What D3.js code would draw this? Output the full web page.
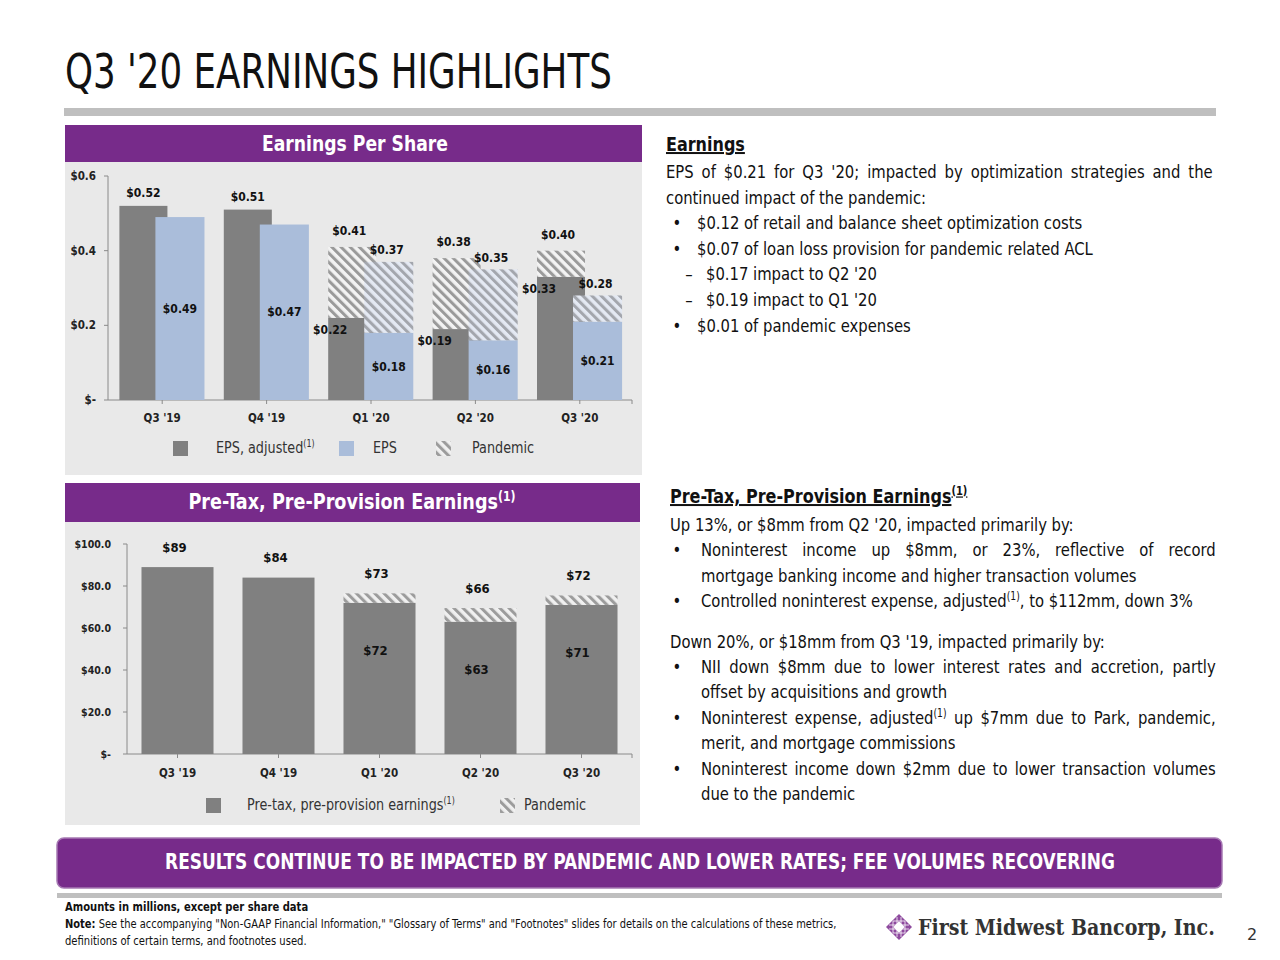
<!DOCTYPE html>
<html><head><meta charset="utf-8">
<script src="https://cdn.jsdelivr.net/npm/d3@7"></script>
<style>body{margin:0;background:#fff}svg{display:block}</style>
</head><body><svg id="c" width="1280" height="960"></svg>
<script>
// ---------- DATA ----------
const categories = ["Q3 '19", "Q4 '19", "Q1 '20", "Q2 '20", "Q3 '20"];
const epsAdjusted = [0.52, 0.51, 0.22, 0.19, 0.33];
const epsAdjustedPandemic = [0, 0, 0.19, 0.19, 0.07];
const eps = [0.49, 0.47, 0.18, 0.16, 0.21];
const epsPandemic = [0, 0, 0.19, 0.19, 0.07];
const epsTicks = [0, 0.2, 0.4, 0.6];
const epsTickLabels = ["$-", "$0.2", "$0.4", "$0.6"];
const ptpp = [89, 84, 72, 63, 71];
const ptppPandemic = [0, 0, 4.5, 6.5, 4.5];
const ptppTotalLabels = ["$89", "$84", "$73", "$66", "$72"];
const ptppTicks = [0, 20, 40, 60, 80, 100];
const ptppTickLabels = ["$-", "$20.0", "$40.0", "$60.0", "$80.0", "$100.0"];

const titleText = "Q3 '20 EARNINGS HIGHLIGHTS";
const earningsBlock = [
  {kind: "para", parts: ["EPS of $0.21 for Q3 '20; impacted by optimization strategies and the"], justify: true},
  {kind: "para", parts: ["continued impact of the pandemic:"]},
  {kind: "bullet", parts: ["$0.12 of retail and balance sheet optimization costs"]},
  {kind: "bullet", parts: ["$0.07 of loan loss provision for pandemic related ACL"]},
  {kind: "dash", parts: ["$0.17 impact to Q2 '20"]},
  {kind: "dash", parts: ["$0.19 impact to Q1 '20"]},
  {kind: "bullet", parts: ["$0.01 of pandemic expenses"]}
];
const ptppBlock = [
  {kind: "para", parts: ["Up 13%, or $8mm from Q2 '20, impacted primarily by:"]},
  {kind: "bullet", parts: ["Noninterest income up $8mm, or 23%, reflective of record"], justify: true},
  {kind: "cont", parts: ["mortgage banking income and higher transaction volumes"]},
  {kind: "bullet", parts: ["Controlled noninterest expense, adjusted", {sup: "(1)"}, ", to $112mm, down 3%"]},
  {kind: "gap"},
  {kind: "para", parts: ["Down 20%, or $18mm from Q3 '19, impacted primarily by:"]},
  {kind: "bullet", parts: ["NII down $8mm due to lower interest rates and accretion, partly"], justify: true},
  {kind: "cont", parts: ["offset by acquisitions and growth"]},
  {kind: "bullet", parts: ["Noninterest expense, adjusted", {sup: "(1)"}, " up $7mm due to Park, pandemic,"], justify: true},
  {kind: "cont", parts: ["merit, and mortgage commissions"]},
  {kind: "bullet", parts: ["Noninterest income down $2mm due to lower transaction volumes"], justify: true},
  {kind: "cont", parts: ["due to the pandemic"]}
];
const bannerText = "RESULTS CONTINUE TO BE IMPACTED BY PANDEMIC AND LOWER RATES; FEE VOLUMES RECOVERING";

// ---------- STYLE ----------
const COND = "'Liberation Sans Narrow','DejaVu Sans Condensed','Arial Narrow',sans-serif";
const CHARTF = "'DejaVu Sans Condensed','DejaVu Sans',sans-serif";
const K = 0.89;
const PURPLE = "#772b8a";
const DARK = "#808080";
const LIGHT = "#aabdda";
const PANEL = "#e9e9e9";

const svg = d3.select("#c");
const defs = svg.append("defs");
function hatch(id, bg, fg) {
  const p = defs.append("pattern").attr("id", id).attr("patternUnits", "userSpaceOnUse")
    .attr("width", 6.5).attr("height", 6.5).attr("patternTransform", "rotate(-45)");
  p.append("rect").attr("width", 6.5).attr("height", 6.5).attr("fill", bg);
  p.append("rect").attr("width", 3).attr("height", 6.5).attr("fill", fg);
}
hatch("hDark", "#f3f3f3", "#9a9a9a");
hatch("hLight", "#e4e9f3", "#a3a6ad");
hatch("hPt", "#f0f0f0", "#9c9c9c");

function squeeze(t, x, k) {
  if (k !== 1) t.attr("transform", `translate(${x},0) scale(${k},1) translate(${-x},0)`);
}
function textLine(g, x, y, parts, o) {
  const t = g.append("text").attr("x", x).attr("y", y)
    .attr("font-family", o.font || COND).attr("font-size", o.size)
    .attr("font-weight", o.weight || "normal").attr("fill", o.fill || "#111");
  if (o.anchor) t.attr("text-anchor", o.anchor);
  if (o.underline) t.attr("text-decoration", "underline");
  let shifted = false;
  (Array.isArray(parts) ? parts : [parts]).forEach(p => {
    if (typeof p === "string") {
      const s = t.append("tspan").text(p);
      if (shifted) { s.attr("dy", o.size * 0.38); shifted = false; }
    } else {
      t.append("tspan").attr("dy", -o.size * 0.38).attr("font-size", o.size * 0.62).text(p.sup);
      shifted = true;
    }
  });
  const w = t.node().getComputedTextLength();
  if (o.justify) {
    // condense glyphs, then widen word gaps to reach the right margin
    const spaces = (t.text().match(/ /g) || []).length;
    const extra = o.justify / K - w;
    if (spaces > 0 && extra > 0) t.attr("word-spacing", extra / spaces);
    squeeze(t, x, K);
    return t;
  }
  let k = 1;
  if (o.len) k = o.len / w; else if (!o.font) k = K;
  squeeze(t, x, k);
  return t;
}

// ---------- TITLE ----------
textLine(svg, 65, 88, titleText, {size: 48, len: 547, fill: "#111"});
svg.append("rect").attr("x", 64).attr("y", 108).attr("width", 1152).attr("height", 8).attr("fill", "#bfbfbf");

// ---------- EPS PANEL ----------
svg.append("rect").attr("x", 65).attr("y", 125).attr("width", 577).attr("height", 37).attr("fill", PURPLE);
svg.append("rect").attr("x", 65).attr("y", 162).attr("width", 577).attr("height", 313).attr("fill", PANEL);
textLine(svg, 355, 151, "Earnings Per Share", {size: 22, weight: "bold", fill: "#fff", anchor: "middle", len: 186});

const ex = d3.scaleBand().domain(categories).range([110, 632]).paddingInner(0).paddingOuter(0);
const ey = d3.scaleLinear().domain([0, 0.6]).range([400, 176]);
const eg = svg.append("g");
const ebw = ex.bandwidth();
const ec = d => ex(d) + ebw / 2;
const darkX = d => ec(d) - 0.41 * ebw, darkW = 0.46 * ebw;
const lightX = d => ec(d) - 0.065 * ebw, lightW = 0.47 * ebw;

eg.append("line").attr("x1", 108).attr("x2", 108).attr("y1", ey(0.6)).attr("y2", ey(0)).attr("stroke", "#8a8a8a");
eg.append("line").attr("x1", 108).attr("x2", 632).attr("y1", ey(0)).attr("y2", ey(0)).attr("stroke", "#8a8a8a");
epsTicks.forEach((t, i) => {
  eg.append("line").attr("x1", 104).attr("x2", 108).attr("y1", ey(t)).attr("y2", ey(t)).attr("stroke", "#8a8a8a");
  eg.append("text").attr("x", 96).attr("y", ey(t)).attr("dy", "0.35em").attr("text-anchor", "end")
    .attr("font-family", CHARTF).attr("font-weight", "bold").attr("font-size", 11.5).attr("fill", "#222").text(epsTickLabels[i]);
});
categories.forEach(c => {
  eg.append("line").attr("x1", ec(c)).attr("x2", ec(c)).attr("y1", ey(0)).attr("y2", ey(0) + 4).attr("stroke", "#8a8a8a");
  eg.append("text").attr("x", ec(c)).attr("y", 418).attr("dy", "0.35em").attr("text-anchor", "middle")
    .attr("font-family", CHARTF).attr("font-weight", "bold").attr("font-size", 11.5).attr("fill", "#222").text(c);
});
eg.append("line").attr("x1", 632).attr("x2", 632).attr("y1", ey(0)).attr("y2", ey(0) + 4).attr("stroke", "#8a8a8a");

categories.forEach((c, i) => {
  eg.append("rect").attr("x", darkX(c)).attr("width", darkW).attr("y", ey(epsAdjusted[i])).attr("height", ey(0) - ey(epsAdjusted[i])).attr("fill", DARK);
  if (epsAdjustedPandemic[i] > 0) {
    const tot = epsAdjusted[i] + epsAdjustedPandemic[i];
    eg.append("rect").attr("x", darkX(c)).attr("width", darkW).attr("y", ey(tot)).attr("height", ey(epsAdjusted[i]) - ey(tot)).attr("fill", "url(#hDark)");
  }
});
categories.forEach((c, i) => {
  eg.append("rect").attr("x", lightX(c)).attr("width", lightW).attr("y", ey(eps[i])).attr("height", ey(0) - ey(eps[i])).attr("fill", LIGHT);
  if (epsPandemic[i] > 0) {
    const tot = eps[i] + epsPandemic[i];
    eg.append("rect").attr("x", lightX(c)).attr("width", lightW).attr("y", ey(tot)).attr("height", ey(eps[i]) - ey(tot)).attr("fill", "url(#hLight)");
  }
});
const fmtE = v => "$" + v.toFixed(2);
function elabel(x, y, txt) {
  eg.append("text").attr("x", x).attr("y", y).attr("dy", "0.35em").attr("text-anchor", "middle")
    .attr("font-family", CHARTF).attr("font-weight", "bold").attr("font-size", 12).attr("fill", "#111").text(txt);
}
categories.forEach((c, i) => {
  const lc = lightX(c) + lightW / 2;
  elabel(lc, (ey(eps[i]) + ey(0)) / 2, fmtE(eps[i]));
  if (epsAdjustedPandemic[i] > 0) {
    const tot = epsAdjusted[i] + epsAdjustedPandemic[i];
    elabel(darkX(c) + darkW / 2 - 3, ey(tot) - 16, fmtE(tot));
    elabel(darkX(c) + 2, ey(epsAdjusted[i]) + 12, fmtE(epsAdjusted[i]));
    const ltot = eps[i] + epsPandemic[i];
    elabel(lc - 2, ey(ltot) - 12, fmtE(ltot));
  } else {
    elabel(darkX(c) + darkW / 2, ey(epsAdjusted[i]) - 13, fmtE(epsAdjusted[i]));
  }
});
function legendItem(g, x, y, fill, label, tx) {
  g.append("rect").attr("x", x).attr("y", y - 7).attr("width", 15).attr("height", 15).attr("fill", fill);
  textLine(g, tx, y + 5.5, label, {size: 16, fill: "#333"});
}
legendItem(eg, 173, 448, DARK, ["EPS, adjusted", {sup: "(1)"}], 216);
legendItem(eg, 339, 448, LIGHT, "EPS", 373);
legendItem(eg, 436, 448, "url(#hPt)", "Pandemic", 472);

// ---------- PTPP PANEL ----------
svg.append("rect").attr("x", 65).attr("y", 483).attr("width", 575).attr("height", 39).attr("fill", PURPLE);
svg.append("rect").attr("x", 65).attr("y", 522).attr("width", 575).attr("height", 303).attr("fill", PANEL);
textLine(svg, 352, 509, ["Pre-Tax, Pre-Provision Earnings", {sup: "(1)"}], {size: 22, weight: "bold", fill: "#fff", anchor: "middle"});

const px = d3.scaleBand().domain(categories).range([127, 632]).paddingInner(0.287).paddingOuter(0.1435);
const py = d3.scaleLinear().domain([0, 100]).range([754, 544]);
const pg = svg.append("g");
pg.append("line").attr("x1", 127).attr("x2", 127).attr("y1", py(100)).attr("y2", py(0)).attr("stroke", "#8a8a8a");
pg.append("line").attr("x1", 127).attr("x2", 632).attr("y1", py(0)).attr("y2", py(0)).attr("stroke", "#8a8a8a");
ptppTicks.forEach((t, i) => {
  pg.append("line").attr("x1", 123).attr("x2", 127).attr("y1", py(t)).attr("y2", py(t)).attr("stroke", "#8a8a8a");
  pg.append("text").attr("x", 111).attr("y", py(t)).attr("dy", "0.35em").attr("text-anchor", "end")
    .attr("font-family", CHARTF).attr("font-weight", "bold").attr("font-size", 10.5).attr("fill", "#222").text(ptppTickLabels[i]);
});
const pc = d => px(d) + px.bandwidth() / 2;
categories.forEach(c => {
  pg.append("line").attr("x1", pc(c)).attr("x2", pc(c)).attr("y1", py(0)).attr("y2", py(0) + 4).attr("stroke", "#8a8a8a");
  pg.append("text").attr("x", pc(c)).attr("y", 773).attr("dy", "0.35em").attr("text-anchor", "middle")
    .attr("font-family", CHARTF).attr("font-weight", "bold").attr("font-size", 11.5).attr("fill", "#222").text(c);
});
pg.append("line").attr("x1", 632).attr("x2", 632).attr("y1", py(0)).attr("y2", py(0) + 4).attr("stroke", "#8a8a8a");
function plabel(x, y, txt) {
  pg.append("text").attr("x", x).attr("y", y).attr("dy", "0.35em").attr("text-anchor", "middle")
    .attr("font-family", CHARTF).attr("font-weight", "bold").attr("font-size", 13).attr("fill", "#111").text(txt);
}
categories.forEach((c, i) => {
  pg.append("rect").attr("x", px(c)).attr("width", px.bandwidth()).attr("y", py(ptpp[i])).attr("height", py(0) - py(ptpp[i])).attr("fill", DARK);
  const top = ptpp[i] + ptppPandemic[i];
  if (ptppPandemic[i] > 0) {
    pg.append("rect").attr("x", px(c)).attr("width", px.bandwidth()).attr("y", py(top)).attr("height", py(ptpp[i]) - py(top)).attr("fill", "url(#hPt)");
    plabel(pc(c) - 4, py(ptpp[i]) + 48, "$" + ptpp[i]);
  }
  plabel(pc(c) - 3, py(top) - 20, ptppTotalLabels[i]);
});
legendItem(pg, 206, 805, DARK, ["Pre-tax, pre-provision earnings", {sup: "(1)"}], 247);
legendItem(pg, 500, 805, "url(#hPt)", "Pandemic", 524);

// ---------- RIGHT TEXT ----------
const tg = svg.append("g");
function block(lines, x0, y0, step, gap) {
  let y = y0;
  lines.forEach(l => {
    if (l.kind === "gap") { y += gap; return; }
    if (l.kind === "para") {
      textLine(tg, x0, y, l.parts, {size: 18.5, justify: l.justify ? 1213 - x0 : null});
    } else if (l.kind === "bullet") {
      textLine(tg, 677, y, "•", {size: 18.5, anchor: "middle"});
      textLine(tg, x0 + 31, y, l.parts, {size: 18.5, justify: l.justify ? 1216 - (x0 + 31) : null});
    } else if (l.kind === "dash") {
      textLine(tg, 689, y, "–", {size: 18.5, anchor: "middle"});
      textLine(tg, 706, y, l.parts, {size: 18.5});
    } else if (l.kind === "cont") {
      textLine(tg, x0 + 31, y, l.parts, {size: 18.5});
    }
    y += step;
  });
}
textLine(tg, 666, 151, "Earnings", {size: 20, weight: "bold", underline: true});
block(earningsBlock, 666, 178, 25.6, 0);
textLine(tg, 670, 503, ["Pre-Tax, Pre-Provision Earnings", {sup: "(1)"}], {size: 20, weight: "bold", underline: true});
block(ptppBlock, 670, 531, 25.4, 15);

// ---------- BANNER ----------
svg.append("rect").attr("x", 57).attr("y", 838).attr("width", 1165).attr("height", 50).attr("rx", 7)
  .attr("fill", PURPLE).attr("stroke", "#a679b3").attr("stroke-width", 1.5);
textLine(svg, 640, 869, bannerText, {size: 21, weight: "bold", fill: "#fff", anchor: "middle", len: 950});
svg.append("rect").attr("x", 57).attr("y", 893).attr("width", 1165).attr("height", 5).attr("fill", "#bfbfbf");

// ---------- FOOTER ----------
textLine(svg, 65, 911, "Amounts in millions, except per share data", {size: 12.5, weight: "bold", fill: "#111"});
const note = svg.append("text").attr("x", 65).attr("y", 928).attr("font-family", COND).attr("font-size", 12.5).attr("fill", "#111");
note.append("tspan").attr("font-weight", "bold").text("Note:");
note.append("tspan").text(" See the accompanying \"Non-GAAP Financial Information,\" \"Glossary of Terms\" and \"Footnotes\" slides for details on the calculations of these metrics,");
squeeze(note, 65, 773 / note.node().getComputedTextLength());
textLine(svg, 65, 945, "definitions of certain terms, and footnotes used.", {size: 12.5, fill: "#111"});

// logo
const lg = svg.append("g").attr("transform", "translate(899,927)");
lg.append("path").attr("d", "M0,-13 L13,0 L0,13 L-13,0 Z").attr("fill", "#8e4a9e");
[-6, -2, 2, 6].forEach(o => {
  lg.append("line").attr("x1", o).attr("x2", o).attr("y1", -12 + Math.abs(o)).attr("y2", 12 - Math.abs(o)).attr("stroke", "#fff").attr("stroke-width", 0.8);
  lg.append("line").attr("y1", o).attr("y2", o).attr("x1", -12 + Math.abs(o)).attr("x2", 12 - Math.abs(o)).attr("stroke", "#fff").attr("stroke-width", 0.8);
});
lg.append("rect").attr("x", -4).attr("y", -4).attr("width", 8).attr("height", 8).attr("fill", "#fff").attr("transform", "rotate(45)");
textLine(svg, 918, 935, "First Midwest Bancorp, Inc.", {font: "'DejaVu Serif',serif", size: 22, weight: "bold", fill: "#333", len: 297});
textLine(svg, 1252, 940, "2", {font: "'DejaVu Sans',sans-serif", size: 16, fill: "#333", anchor: "middle"});
</script>
</body></html>
